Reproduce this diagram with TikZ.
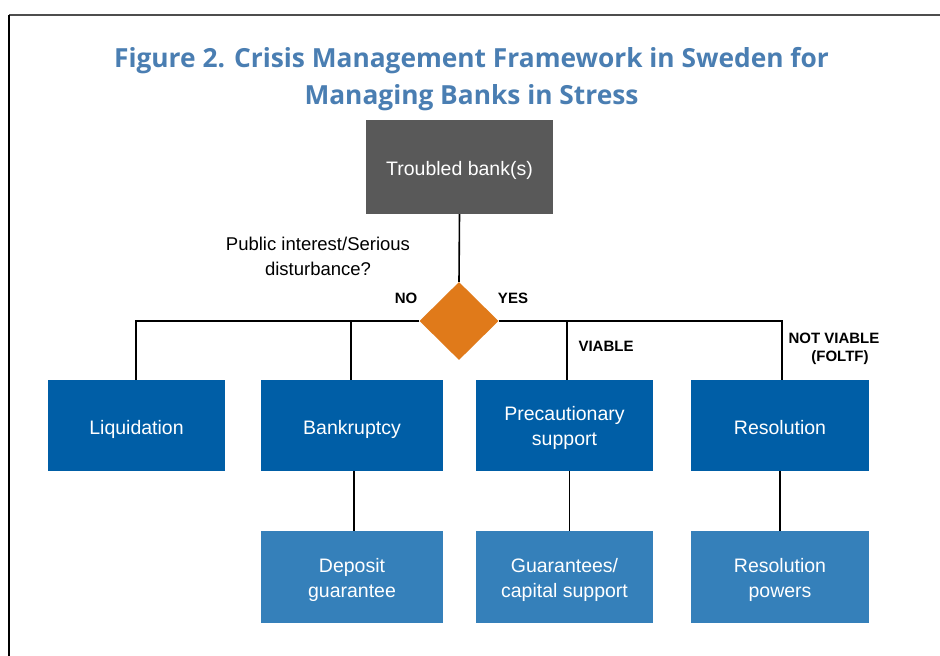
\documentclass[tikz,border=0pt]{standalone}
\usepackage{fontspec}
\setmainfont{Liberation Sans}
\newfontfamily\titlefont{Open Sans}
\usetikzlibrary{shapes.geometric}
\definecolor{titleblue}{RGB}{74,126,178}
\definecolor{darkblue}{RGB}{0,94,166}
\definecolor{lightblue}{RGB}{53,128,186}
\definecolor{boxgray}{RGB}{89,89,89}
\definecolor{diamondorange}{RGB}{224,122,26}
\definecolor{framegray}{RGB}{77,77,77}
\newcommand\lowtext[2]{\raisebox{-#1}[\height][\depth]{\begin{tabular}{@{}c@{}}#2\end{tabular}}}
\tikzset{
  boxbase/.style={rectangle, inner sep=0pt, text=white,
    font=\fontsize{19.5}{25}\selectfont},
  topbox/.style={boxbase, fill=boxgray, minimum width=187pt, minimum height=94pt},
  mainbox/.style={boxbase, fill=darkblue, minimum height=91pt},
  subbox/.style={boxbase, fill=lightblue, minimum height=92pt},
  conn/.style={line width=1.6pt, black},
  lbl/.style={font=\bfseries\fontsize{15}{20}\selectfont, inner sep=0pt, align=center},
  qlbl/.style={font=\fontsize{18.5}{25}\selectfont, inner sep=0pt, align=center}
}
\begin{document}
\begin{tikzpicture}[x=1pt,y=-1pt]
\useasboundingbox (0,0) rectangle (940,656);
\fill[white] (0,0) rectangle (940,656);
% frame
\draw[line width=2pt, framegray] (9,15) -- (940,15);
\draw[line width=2pt, black] (9,15) -- (9,656);
% title
\node[font=\titlefont\bfseries\fontsize{26.3}{37}\selectfont, text=titleblue, align=center, inner sep=0pt] (title) at (471.5,79)
  {Figure 2. Crisis Management Framework in Sweden for\\Managing Banks in Stress};
% nodes
\node[topbox] (troubled) at (459.5,167) {\lowtext{3pt}{Troubled bank(s)}};
\node[diamond, fill=diamondorange, minimum width=79pt, minimum height=78pt, inner sep=0pt] (dec) at (459,321) {};
\node[mainbox, minimum width=177pt] (liq) at (136.5,425.5) {\lowtext{3.5pt}{Liquidation}};
\node[mainbox, minimum width=182pt] (bank) at (352,425.5) {\lowtext{3.5pt}{Bankruptcy}};
\node[mainbox, minimum width=177pt] (prec) at (564.5,425.5) {\lowtext{2pt}{Precautionary\\support}};
\node[mainbox, minimum width=178pt] (res) at (780,425.5) {\lowtext{3.5pt}{Resolution}};
\node[subbox, minimum width=182pt] (dep) at (352,577) {\lowtext{3pt}{Deposit\\guarantee}};
\node[subbox, minimum width=177pt] (guar) at (564.5,577) {\lowtext{3pt}{Guarantees/\\capital support}};
\node[subbox, minimum width=178pt] (pow) at (780,577) {\lowtext{3pt}{Resolution\\powers}};
% labels
\node[qlbl] (q) at (318,256) {Public interest/Serious\\disturbance?};
\node[lbl] (no) at (406,298) {NO};
\node[lbl] (yes) at (513,298) {YES};
\node[lbl] (viable) at (606,346) {VIABLE};
\node[lbl] (notv) at (834,338) {NOT VIABLE};
\node[lbl] (foltf) at (840,358) {(FOLTF)};
% junctions
\coordinate (jl) at (136,321);
\coordinate (jb) at (351,321);
\coordinate (jp) at (567,321);
\coordinate (jr) at (782,321);
% connectors
\draw[conn] (troubled.south) -- (dec.north);
\draw[conn] (dec.west) -- (jl) -- (jl |- liq.north);
\draw[conn] (jb) -- (jb |- bank.north);
\draw[conn] (dec.east) -- (jr) -- (jr |- res.north);
\draw[conn] (jp) -- (jp |- prec.north);
\draw[conn] ([xshift=2pt]bank.south) -- ([xshift=2pt]dep.north);
\draw[conn] ([xshift=5pt]prec.south) -- ([xshift=5pt]guar.north);
\draw[conn] (res.south) -- (pow.north);
\end{tikzpicture}
\end{document}
